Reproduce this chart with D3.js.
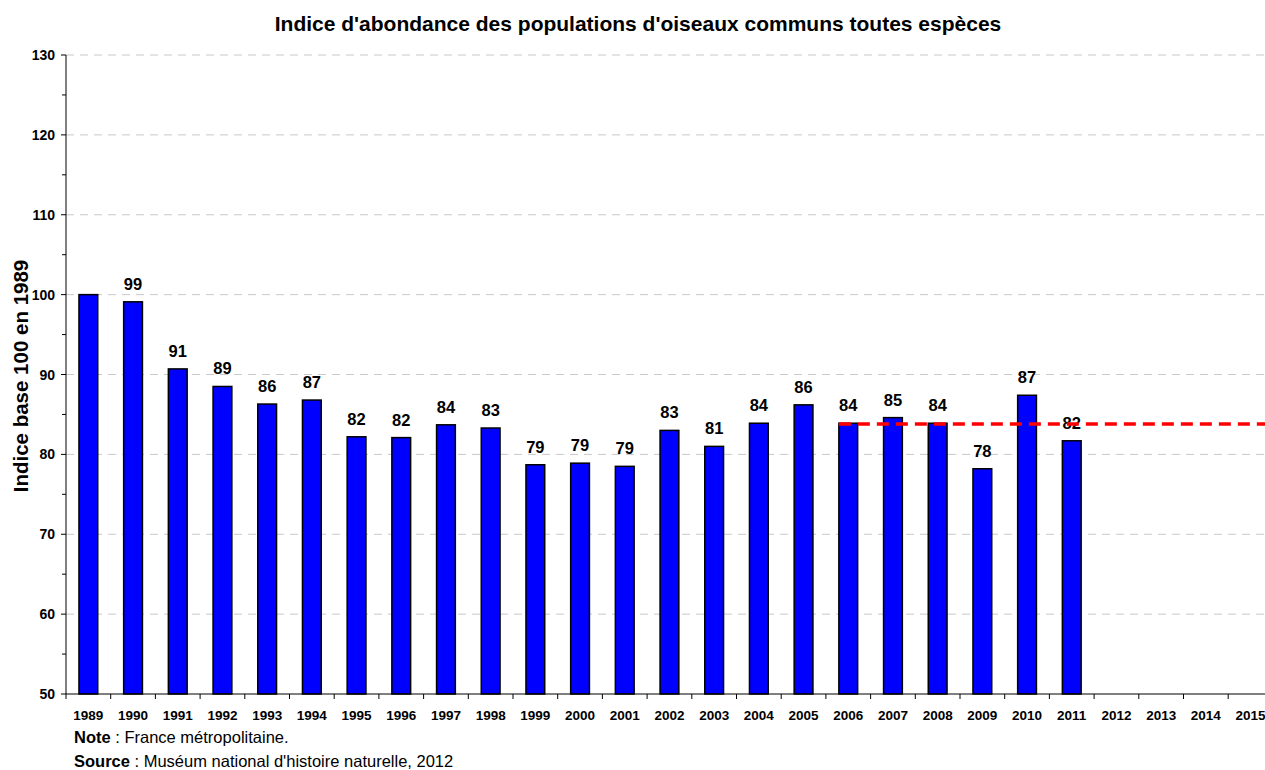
<!DOCTYPE html>
<html>
<head>
<meta charset="utf-8">
<script src="https://cdn.jsdelivr.net/npm/d3@7"></script>
<style>
  body { margin: 0; background: #fff; }
  text { font-family: Arial, "Liberation Sans", sans-serif; }
</style>
</head>
<body>
<svg id="chart" width="1265" height="770"></svg>
<script>
// years on the x axis (bars only up to 2011)
var years = ["1989","1990","1991","1992","1993","1994","1995","1996","1997","1998","1999","2000","2001","2002","2003","2004","2005","2006","2007","2008","2009","2010","2011","2012","2013","2014","2015"];
var index_values = [100, 99.1, 90.7, 88.5, 86.3, 86.8, 82.2, 82.1, 83.7, 83.3, 78.7, 78.9, 78.5, 83.0, 81.0, 83.9, 86.2, 83.9, 84.6, 83.9, 78.2, 87.4, 81.7];
var value_labels = ["", "99", "91", "89", "86", "87", "82", "82", "84", "83", "79", "79", "79", "83", "81", "84", "86", "84", "85", "84", "78", "87", "82"];
var target_value = 83.8;   // red dashed line, from 2006 on
var target_start = "2006";
var y_ticks = [50, 60, 70, 80, 90, 100, 110, 120, 130];
var y_minor = [55, 65, 75, 85, 95, 105, 115, 125];

var svg = d3.select("#chart");
var plot_left = 66, plot_top = 55, plot_bottom = 694;
var step = 44.7;
var plot_right = plot_left + step * years.length;

var x = d3.scaleBand().domain(years).range([plot_left, plot_right]).paddingInner(0.58).paddingOuter(0.29);
var xb = d3.scaleBand().domain(years).range([plot_left, plot_right]);
var y = d3.scaleLinear().domain([50, 130]).range([plot_bottom, plot_top]);

// title
svg.append("text")
    .attr("x", 638).attr("y", 31)
    .attr("text-anchor", "middle")
    .style("font-size", "21px").style("font-weight", "bold")
    .text("Indice d'abondance des populations d'oiseaux communs toutes espèces");

// grid lines
svg.append("g").selectAll("line")
    .data(y_ticks.filter(function(d){ return d > 50; }))
    .enter().append("line")
    .attr("x1", plot_left).attr("x2", 1265)
    .attr("y1", function(d){ return y(d); }).attr("y2", function(d){ return y(d); })
    .attr("stroke", "#c8c8c8").attr("stroke-width", 1)
    .attr("stroke-dasharray", "8,6");

// bars
var data = index_values.map(function(v, i){ return {year: years[i], value: v, label: value_labels[i]}; });
svg.append("g").selectAll("rect")
    .data(data).enter().append("rect")
    .attr("x", function(d){ return x(d.year); })
    .attr("width", x.bandwidth())
    .attr("y", function(d){ return y(d.value); })
    .attr("height", function(d){ return plot_bottom - y(d.value); })
    .attr("fill", "#0000ff")
    .attr("stroke", "#000").attr("stroke-width", 1.5);

// value labels
svg.append("g").selectAll("text")
    .data(data).enter().append("text")
    .attr("x", function(d){ return x(d.year) + x.bandwidth() / 2; })
    .attr("y", function(d){ return y(d.value) - 12; })
    .attr("text-anchor", "middle")
    .style("font-size", "16.5px").style("font-weight", "bold")
    .text(function(d){ return d.label; });

// red dashed reference line
svg.append("line")
    .attr("x1", x(target_start)).attr("x2", 1265)
    .attr("y1", y(target_value)).attr("y2", y(target_value))
    .attr("stroke", "#ff0000").attr("stroke-width", 3.5)
    .attr("stroke-dasharray", "12,7");

// y axis
var yAxis = svg.append("g").attr("transform", "translate(" + plot_left + ",0)");
yAxis.append("line").attr("x1", 0).attr("x2", 0).attr("y1", plot_top).attr("y2", plot_bottom).attr("stroke", "#000");
yAxis.selectAll("line.major").data(y_ticks).enter().append("line")
    .attr("x1", -5).attr("x2", 0)
    .attr("y1", function(d){ return y(d); }).attr("y2", function(d){ return y(d); })
    .attr("stroke", "#000");
yAxis.selectAll("line.minor").data(y_minor).enter().append("line")
    .attr("x1", -4).attr("x2", 0)
    .attr("y1", function(d){ return y(d); }).attr("y2", function(d){ return y(d); })
    .attr("stroke", "#000");
yAxis.selectAll("text").data(y_ticks).enter().append("text")
    .attr("x", -11).attr("y", function(d){ return y(d) + 5; })
    .attr("text-anchor", "end")
    .style("font-size", "14px").style("font-weight", "bold")
    .text(function(d){ return d; });

// x axis
var xAxis = svg.append("g");
xAxis.append("line").attr("x1", plot_left).attr("x2", 1265).attr("y1", plot_bottom).attr("y2", plot_bottom).attr("stroke", "#000");
xAxis.selectAll("line.tick").data(years).enter().append("line")
    .attr("x1", function(d){ return xb(d); }).attr("x2", function(d){ return xb(d); })
    .attr("y1", plot_bottom).attr("y2", plot_bottom + 5)
    .attr("stroke", "#000");
xAxis.selectAll("text").data(years).enter().append("text")
    .attr("x", function(d){ return xb(d) + xb.bandwidth() / 2; })
    .attr("y", 720)
    .attr("text-anchor", "middle")
    .style("font-size", "13.5px").style("font-weight", "bold")
    .text(function(d){ return d; });

// y label
svg.append("text")
    .attr("transform", "translate(28,376) rotate(-90)")
    .attr("text-anchor", "middle")
    .style("font-size", "20.5px").style("font-weight", "bold")
    .text("Indice base 100 en 1989");

// notes
var note = svg.append("text").attr("x", 74).attr("y", 743).style("font-size", "16.5px");
note.append("tspan").style("font-weight", "bold").text("Note");
note.append("tspan").text(" : France métropolitaine.");
var src = svg.append("text").attr("x", 74).attr("y", 767).style("font-size", "16.5px");
src.append("tspan").style("font-weight", "bold").text("Source");
src.append("tspan").text(" : Muséum national d'histoire naturelle, 2012");
</script>
</body>
</html>
